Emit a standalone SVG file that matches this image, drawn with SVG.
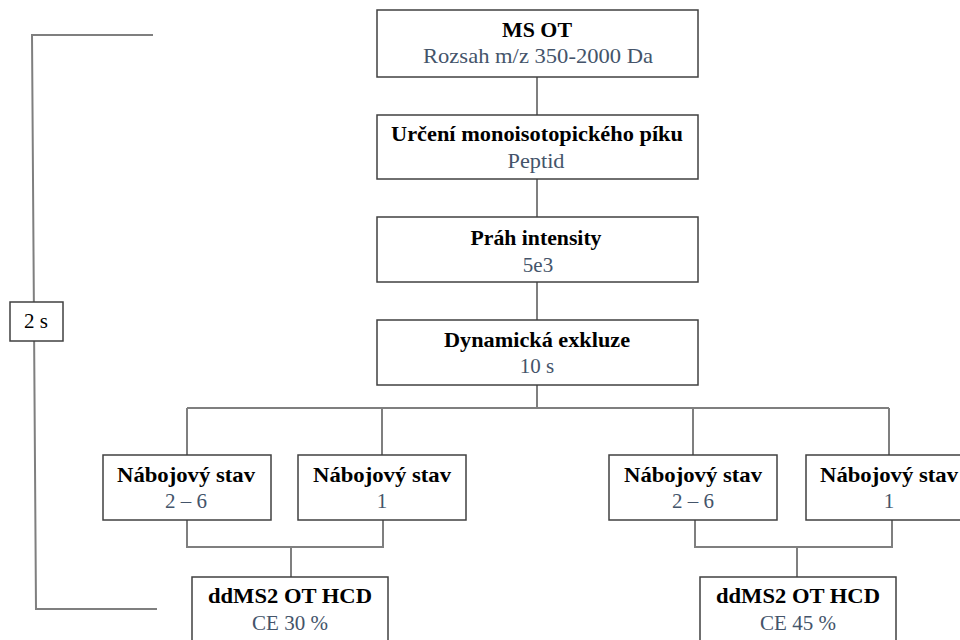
<svg xmlns="http://www.w3.org/2000/svg" width="960" height="640" viewBox="0 0 960 640">
<style>
.box{fill:#fff;stroke:#404040;stroke-width:1.5}
.c{fill:none;stroke:#7f7f7f;stroke-width:2}
.t{font-family:"Liberation Serif","Times New Roman",serif;font-size:21px;font-weight:bold;fill:#000;text-anchor:middle}
.s{font-family:"Liberation Serif","Times New Roman",serif;font-size:21px;fill:#44546A;text-anchor:middle}
.k{font-family:"Liberation Serif","Times New Roman",serif;font-size:21px;fill:#000;text-anchor:middle}
</style>
<rect width="960" height="640" fill="#fff"/>
<g id="connectors">
<path class="c" d="M537 77V115M537 179V217M537 282V320M537 385V408"/>
<path class="c" d="M187 408H889M187 408V455M382 408V455M693 408V455M889 408V455"/>
<path class="c" d="M187 520V547H383V520M291 547V577"/>
<path class="c" d="M695 520V547H892V520M797 547V577"/>
<path class="c" d="M153 35H32L36 609H157"/>
</g>
<g id="n-2s">
<rect class="box" x="10" y="302" width="53" height="39"/>
<text class="k" x="36" y="328">2 s</text>
</g>
<g id="n-msot">
<rect class="box" x="377" y="10" width="321" height="67"/>
<text class="t" x="537" y="37" textLength="70" lengthAdjust="spacingAndGlyphs">MS OT</text>
<text class="s" x="538" y="63" textLength="230" lengthAdjust="spacingAndGlyphs">Rozsah m/z 350-2000 Da</text>
</g>
<g id="n-urceni">
<rect class="box" x="377" y="115" width="321" height="64"/>
<text class="t" x="537" y="141" textLength="292" lengthAdjust="spacingAndGlyphs">Určení  monoisotopického  píku</text>
<text class="s" x="536" y="168" textLength="57" lengthAdjust="spacingAndGlyphs">Peptid</text>
</g>
<g id="n-prah">
<rect class="box" x="377" y="217" width="321" height="65"/>
<text class="t" x="536" y="245" textLength="131" lengthAdjust="spacingAndGlyphs">Práh intensity</text>
<text class="s" x="538" y="272">5e3</text>
</g>
<g id="n-dyn">
<rect class="box" x="377" y="320" width="321" height="65"/>
<text class="t" x="537" y="347" textLength="186" lengthAdjust="spacingAndGlyphs">Dynamická  exkluze</text>
<text class="s" x="537" y="373">10 s</text>
</g>
<g id="n-nab1">
<rect class="box" x="103" y="455" width="168" height="65"/>
<text class="t" x="186" y="482" textLength="138" lengthAdjust="spacingAndGlyphs">Nábojový stav</text>
<text class="s" x="186" y="508">2 – 6</text>
</g>
<g id="n-nab2">
<rect class="box" x="298" y="455" width="168" height="65"/>
<text class="t" x="382" y="482" textLength="138" lengthAdjust="spacingAndGlyphs">Nábojový stav</text>
<text class="s" x="382" y="508">1</text>
</g>
<g id="n-nab3">
<rect class="box" x="609" y="455" width="168" height="65"/>
<text class="t" x="693" y="482" textLength="138" lengthAdjust="spacingAndGlyphs">Nábojový stav</text>
<text class="s" x="693" y="508">2 – 6</text>
</g>
<g id="n-nab4">
<rect class="box" x="806" y="455" width="168" height="65"/>
<text class="t" x="889" y="482" textLength="138" lengthAdjust="spacingAndGlyphs">Nábojový stav</text>
<text class="s" x="889" y="508">1</text>
</g>
<g id="n-dd30">
<rect class="box" x="192" y="577" width="196" height="80"/>
<text class="t" x="290" y="603" textLength="164" lengthAdjust="spacingAndGlyphs">ddMS2  OT  HCD</text>
<text class="s" x="290" y="630">CE 30 %</text>
</g>
<g id="n-dd45">
<rect class="box" x="700" y="577" width="196" height="80"/>
<text class="t" x="798" y="603" textLength="164" lengthAdjust="spacingAndGlyphs">ddMS2  OT  HCD</text>
<text class="s" x="798" y="630">CE 45 %</text>
</g>
</svg>
